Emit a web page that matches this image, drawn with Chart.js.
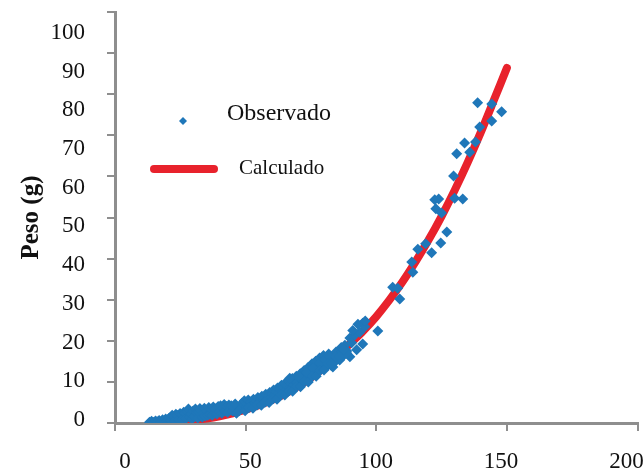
<!DOCTYPE html>
<html>
<head>
<meta charset="utf-8">
<script src="https://cdn.jsdelivr.net/npm/chart.js@4/dist/chart.umd.min.js"></script>
<style>
    html, body { margin: 0; padding: 0; background: #ffffff; }
    #wrap { position: relative; width: 643px; height: 472px; }
</style>
</head>
<body>
<div id="wrap"><canvas id="peso-chart" width="643" height="472"></canvas></div>
<script>
// =========================================================================
// Data
// =========================================================================

// Observed fish: length (x) and weight in g (y)
var obsLength = [
    13.2, 14.0, 14.8, 15.5, 16.1, 16.9, 17.5, 18.2, 18.8, 19.4, 19.9, 20.3,
    20.8, 21.3, 21.9, 22.4, 22.8, 23.3, 23.9, 24.4, 24.9, 25.4, 25.9, 26.3, 26.8, 27.2, 27.7, 28.1, 28.6, 29.0, 29.5, 29.9,
    30.4, 30.8, 31.2, 31.7, 32.1, 32.5, 32.9, 33.4, 33.8, 34.2, 34.6, 35.1, 35.5, 35.9, 36.3, 36.8, 37.2, 37.6, 38.1, 38.5, 39.0, 39.5,
    40.0, 40.4, 40.9, 41.3, 41.8, 42.2, 42.7, 43.1, 43.6, 44.0, 44.5, 45.0, 45.5, 46.0,
    48.2, 48.6, 49.1, 49.5, 50.0, 50.5, 51.0, 51.5, 52.0, 52.5, 53.0, 53.5, 54.1, 54.7,
    55.2, 55.7, 56.2, 56.7, 57.2, 57.7, 58.2, 58.7, 59.2, 59.7, 60.2, 60.7, 61.2, 61.7, 62.2, 62.7, 63.2, 63.7, 64.2, 64.6, 65.0, 65.4,
    65.9, 66.4, 66.9, 67.4, 67.9, 68.4, 68.9, 69.4, 69.9, 70.4, 70.9, 71.4, 71.9, 72.4, 72.9, 73.4, 73.9, 74.4, 74.9, 75.4, 75.8, 76.3,
    76.8, 77.3, 77.8, 78.3, 78.8, 79.3, 79.8, 80.3, 80.8, 81.3, 81.8, 82.3, 82.8, 83.4, 84.0, 84.6, 85.2, 86.0, 86.6, 87.3, 88.0, 88.7,
    66.9, 70.7, 73.4, 75.7, 78.4, 80.3, 82.2, 83.4, 86.0, 89.9, 88.7, 92.5, 94.8, 89.9, 90.6, 91.8, 93.7, 94.8, 95.6, 91.0, 93.0, 95.8,
    46.5, 47.5, 49.8, 51.2, 52.8, 54.4, 56.0, 57.5, 59.0, 60.5, 62.0, 63.5, 65.0, 66.5,
    68.0, 69.5, 71.0, 72.5, 74.0, 75.5, 77.0, 78.5, 80.0, 81.5, 83.0, 84.5, 86.0, 87.5,
    100.6, 106.3, 108.2, 109.0, 113.6, 114.0, 115.9, 118.9, 121.2, 124.7, 127.0, 122.8, 125.0, 122.4,
    123.9, 130.0, 133.1, 129.6, 130.8, 135.8, 133.8, 138.0, 139.6, 144.2, 138.8, 144.2, 148.0
];
var obsWeight = [
    0.2, 0.4, 0.1, 0.5, 0.3, 0.6, 0.2, 0.8, 0.5, 1.0, 0.4, 0.7,
    1.2, 0.6, 1.9, 1.5, 0.5, 2.1, 1.8, 0.8, 2.3, 2.0, 0.9, 2.6, 2.4, 1.1, 2.8, 3.4, 1.4, 2.2, 1.0, 2.9,
    1.6, 3.4, 2.6, 1.2, 2.7, 3.5, 3.0, 1.4, 2.3, 3.6, 1.7, 2.9, 1.9, 3.8, 2.1, 3.3, 1.9, 3.9, 2.4, 3.4, 2.2, 4.0,
    2.7, 4.2, 2.4, 3.6, 4.5, 2.9, 4.0, 2.6, 4.4, 3.1, 4.2, 2.9, 3.8, 4.6,
    3.6, 4.8, 4.1, 5.4, 3.9, 4.7, 5.6, 4.2, 5.1, 4.5, 5.8, 4.8, 5.3, 6.2,
    4.9, 5.7, 6.5, 5.3, 6.0, 7.0, 5.8, 6.6, 7.4, 6.2, 7.1, 8.0, 6.8, 7.6, 8.5, 7.2, 8.2, 9.2, 7.7, 8.7, 9.6, 8.1,
    9.0, 10.2, 8.6, 9.6, 10.8, 9.3, 10.3, 11.4, 9.9, 11.0, 12.0, 10.5, 11.6, 12.8, 11.2, 12.3, 13.5, 11.8, 13.0, 14.4, 12.4, 13.7,
    15.0, 12.9, 14.3, 15.8, 13.6, 15.1, 16.4, 14.2, 15.7, 13.9, 16.8, 15.0, 14.0, 16.2, 14.8, 17.3, 15.6, 16.7, 18.4, 16.3, 18.9, 17.5,
    10.9, 11.2, 12.2, 13.4, 14.6, 15.3, 16.1, 13.6, 15.3, 16.1, 17.0, 17.8, 19.2, 20.7, 19.5, 21.4, 22.1, 24.3, 23.4, 22.5, 24.0, 24.8,
    2.4, 3.0, 3.0, 3.7, 3.6, 4.4, 4.3, 5.1, 5.0, 5.9, 5.8, 6.9, 6.8, 7.8,
    7.7, 8.9, 8.8, 10.1, 10.0, 11.4, 11.4, 12.8, 12.9, 14.4, 14.5, 16.1, 16.2, 17.9,
    22.4, 33.0, 32.8, 30.2, 39.2, 36.7, 42.3, 43.6, 41.4, 43.8, 46.5, 52.1, 51.1, 54.3,
    54.5, 54.7, 54.5, 60.1, 65.5, 65.9, 68.1, 68.4, 72.0, 73.5, 77.9, 77.6, 75.7
];

// Calculated length-weight curve
var calcLength = [15, 20, 25, 30, 35, 40, 45, 50, 55, 60, 65, 70, 75, 80,
    85, 90, 95, 100, 105, 110, 115, 120, 125, 130, 135, 140, 145, 150];
var calcWeight = [0.09, 0.21, 0.40, 0.70, 1.11, 1.65, 2.35, 3.22, 4.29, 5.57, 7.08, 8.9, 11.0, 13.5,
    16.3, 19.3, 22.4, 25.9, 29.9, 34.3, 39.2, 44.5, 50.3, 56.6, 63.4, 70.7, 78.5, 86.4];

// Axis ticks
var xTickValues = [0, 50, 100, 150, 200];
var yTickValues = [0, 10, 20, 30, 40, 50, 60, 70, 80, 90, 100];

var seriesNames = ['Observado', 'Calculado'];
var yAxisTitle = 'Peso (g)';

(function () {
    'use strict';

    var BLUE = '#1f77b9';
    var RED = '#e8222c';
    var GREY = '#8e8e8e';
    var SERIF = '"Liberation Serif", "DejaVu Serif", serif';

    function fixedTicks(values) {
        return function (scale) {
            scale.ticks = values.map(function (v) { return { value: v }; });
        };
    }

    function fixedSize(prop, size) {
        return function (scale) {
            scale[prop] = size;
            scale.paddingTop = 0;
            scale.paddingBottom = 0;
            scale.paddingLeft = 0;
            scale.paddingRight = 0;
        };
    }

    // =========================================================================
    // Legend drawn inside the plot, as in the figure
    // =========================================================================

    var insideLegend = {
        id: 'insideLegend',
        afterDraw: function (chart) {
            var ctx = chart.ctx;
            ctx.save();

            // blue diamond
            ctx.fillStyle = BLUE;
            ctx.beginPath();
            ctx.moveTo(183, 117);
            ctx.lineTo(187, 121);
            ctx.lineTo(183, 125);
            ctx.lineTo(179, 121);
            ctx.closePath();
            ctx.fill();

            // red line
            ctx.strokeStyle = RED;
            ctx.lineWidth = 8;
            ctx.lineCap = 'round';
            ctx.beginPath();
            ctx.moveTo(154, 169);
            ctx.lineTo(214, 169);
            ctx.stroke();

            ctx.fillStyle = '#111111';
            ctx.textBaseline = 'middle';
            ctx.textAlign = 'left';
            ctx.font = '24px ' + SERIF;
            ctx.fillText(seriesNames[0], 227, 114);
            ctx.font = '21px ' + SERIF;
            ctx.fillText(seriesNames[1], 239, 168);
            ctx.restore();
        }
    };

    // =========================================================================
    // Chart
    // =========================================================================

    var observed = obsLength.map(function (l, i) { return { x: l, y: obsWeight[i] }; });
    var calculated = calcLength.map(function (l, i) { return { x: l, y: calcWeight[i] }; });

    var axisGrid = { drawOnChartArea: false, drawTicks: true, tickLength: 8, color: GREY, lineWidth: 2 };
    var axisBorder = { display: true, color: GREY, width: 3 };

    new Chart(document.getElementById('peso-chart'), {
        type: 'scatter',
        data: {
            datasets: [{
                label: seriesNames[0],
                data: observed,
                order: 0,
                pointStyle: 'rectRot',
                pointRadius: 5.5,
                pointBorderWidth: 0,
                backgroundColor: BLUE,
                borderColor: BLUE
            }, {
                label: seriesNames[1],
                type: 'line',
                data: calculated,
                order: 1,
                borderColor: RED,
                borderWidth: 8,
                borderCapStyle: 'round',
                tension: 0.3,
                pointRadius: 0,
                fill: false
            }]
        },
        options: {
            responsive: false,
            animation: false,
            layout: { padding: { top: 12, right: 5, left: 0, bottom: 0 } },
            plugins: {
                legend: { display: false },
                tooltip: { enabled: false }
            },
            scales: {
                x: {
                    type: 'linear', position: 'bottom', weight: 0,
                    min: 0, max: 200,
                    afterBuildTicks: fixedTicks(xTickValues),
                    afterFit: fixedSize('height', 0),
                    ticks: { display: false },
                    grid: axisGrid,
                    border: axisBorder
                },
                xLabels: {
                    type: 'linear', position: 'bottom', weight: 1,
                    min: -3.98, max: 204.4,
                    afterBuildTicks: fixedTicks(xTickValues),
                    afterFit: fixedSize('height', 49),
                    grid: { display: false },
                    border: { display: false },
                    ticks: { color: '#111111', padding: 17, font: { family: SERIF, size: 23 } }
                },
                y: {
                    type: 'linear', position: 'left', weight: 0,
                    min: 0, max: 100,
                    afterBuildTicks: fixedTicks(yTickValues),
                    afterFit: fixedSize('width', 0),
                    ticks: { display: false },
                    grid: axisGrid,
                    border: axisBorder
                },
                yLabels: {
                    type: 'linear', position: 'left', weight: 1,
                    min: -0.78, max: 105.4,
                    afterBuildTicks: fixedTicks(yTickValues),
                    afterFit: fixedSize('width', 115),
                    grid: { display: false },
                    border: { display: false },
                    ticks: { color: '#111111', padding: 22, font: { family: SERIF, size: 23 } },
                    title: {
                        display: true,
                        text: yAxisTitle,
                        color: '#111111',
                        padding: { top: 17, bottom: 0 },
                        font: { family: SERIF, size: 25, weight: 'bold' }
                    }
                }
            }
        },
        plugins: [insideLegend]
    });
})();
</script>
</body>
</html>
